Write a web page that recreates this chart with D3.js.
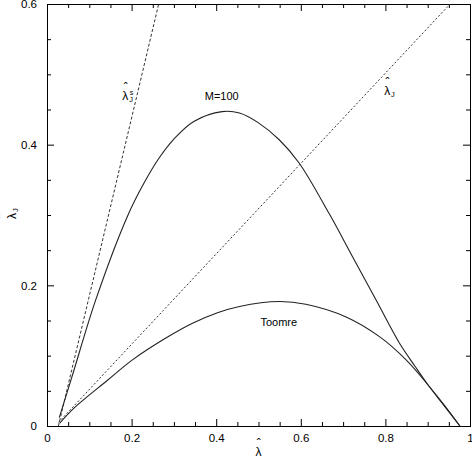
<!DOCTYPE html>
<html lang="en">
<head>
<meta charset="UTF-8">
<title>Lambda_J vs lambda</title>
<style>
    body { margin: 0; background: #fff; }
    svg { display: block; font-family: "Liberation Sans", Arial, Helvetica, sans-serif; }
    .tick text { font-size: 11.5px; fill: #000; }
    .tick line { stroke: #000; }
    .curve { fill: none; stroke: #222; stroke-width: 1.1; }
    .guide { fill: none; stroke: #333; stroke-width: 1; }
    .lab { font-size: 11px; fill: #000; }
</style>
</head>
<body>
<div id="chart"></div>
<script src="https://d3js.org/d3.v7.min.js"></script>
<script>

    // tick values and labels
    var xTicks = [0, 0.2, 0.4, 0.6, 0.8, 1];
    var xTickLabels = ["0", "0.2", "0.4", "0.6", "0.8", "1"];
    var yTicks = [0, 0.2, 0.4, 0.6];
    var yTickLabels = ["0", "0.2", "0.4", "0.6"];
    var xMinor = [0.05, 0.1, 0.15, 0.25, 0.3, 0.35, 0.45, 0.5, 0.55, 0.65, 0.7, 0.75, 0.85, 0.9, 0.95];
    var yMinor = [0.05, 0.1, 0.15, 0.25, 0.3, 0.35, 0.45, 0.5, 0.55];

    // M=100 curve
    var m100X = [0.029, 0.06, 0.115, 0.19, 0.229, 0.265, 0.30, 0.347, 0.414, 0.455, 0.50, 0.549, 0.596, 0.667, 0.722, 0.778, 0.833, 0.87, 0.90, 0.94, 0.976];
    var m100Y = [0.012, 0.072, 0.179, 0.298, 0.345, 0.381, 0.408, 0.433, 0.447, 0.445, 0.431, 0.407, 0.374, 0.302, 0.241, 0.179, 0.118, 0.085, 0.059, 0.028, 0.0];

    // Toomre curve
    var toomreX = [0.03, 0.065, 0.143, 0.202, 0.281, 0.344, 0.403, 0.455, 0.549, 0.612, 0.707, 0.786, 0.849, 0.90, 0.94, 0.976];
    var toomreY = [0.004, 0.026, 0.065, 0.094, 0.125, 0.146, 0.161, 0.170, 0.177, 0.173, 0.155, 0.127, 0.094, 0.059, 0.029, 0.0];

    // dashed straight lines
    var lamJsX = [0.027, 0.264];
    var lamJsY = [0.0, 0.6];
    var lamJX = [0.027, 0.953];
    var lamJY = [0.005, 0.6];

    var width = 472,
        height = 458;
    var margin = {top: 4, right: 2, bottom: 32, left: 47};

    var svg = d3.select("#chart").append("svg")
        .attr("width", width)
        .attr("height", height);

    var x = d3.scaleLinear()
        .domain([0, 1])
        .range([margin.left, width - margin.right]);

    var y = d3.scaleLinear()
        .domain([0, 0.6])
        .range([height - margin.bottom, margin.top]);

    function pairs(xs, ys) {
        return xs.map(function (d, i) { return [d, ys[i]]; });
    }

    function noDomain(g) { g.select(".domain").remove(); }

    // axes: ticks pointing inward on all four sides
    svg.append("g")
        .attr("transform", "translate(0," + y(0) + ")")
        .call(d3.axisBottom(x).tickValues(xTicks).tickSize(-7).tickPadding(8)
            .tickFormat(function (d, i) { return xTickLabels[i]; }))
        .call(noDomain);
    svg.append("g")
        .attr("transform", "translate(0," + y(0) + ")")
        .call(d3.axisBottom(x).tickValues(xMinor).tickSize(-4).tickFormat(""))
        .call(noDomain);

    svg.append("g")
        .attr("transform", "translate(0," + y(0.6) + ")")
        .call(d3.axisTop(x).tickValues(xTicks).tickSize(-7).tickFormat(""))
        .call(noDomain);
    svg.append("g")
        .attr("transform", "translate(0," + y(0.6) + ")")
        .call(d3.axisTop(x).tickValues(xMinor).tickSize(-4).tickFormat(""))
        .call(noDomain);

    svg.append("g")
        .attr("transform", "translate(" + x(0) + ",0)")
        .call(d3.axisLeft(y).tickValues(yTicks).tickSize(-7).tickPadding(10)
            .tickFormat(function (d, i) { return yTickLabels[i]; }))
        .call(noDomain);
    svg.append("g")
        .attr("transform", "translate(" + x(0) + ",0)")
        .call(d3.axisLeft(y).tickValues(yMinor).tickSize(-4).tickFormat(""))
        .call(noDomain);

    svg.append("g")
        .attr("transform", "translate(" + x(1) + ",0)")
        .call(d3.axisRight(y).tickValues(yTicks).tickSize(-7).tickFormat(""))
        .call(noDomain);
    svg.append("g")
        .attr("transform", "translate(" + x(1) + ",0)")
        .call(d3.axisRight(y).tickValues(yMinor).tickSize(-4).tickFormat(""))
        .call(noDomain);

    // frame
    svg.append("rect")
        .attr("x", x(0) + 0.5)
        .attr("y", y(0.6) + 0.5)
        .attr("width", x(1) - x(0))
        .attr("height", y(0) - y(0.6))
        .attr("fill", "none")
        .attr("stroke", "#000")
        .attr("stroke-width", 1);

    var line = d3.line()
        .x(function (d) { return x(d[0]); })
        .y(function (d) { return y(d[1]); });

    var smooth = d3.line()
        .curve(d3.curveCatmullRom.alpha(0.5))
        .x(function (d) { return x(d[0]); })
        .y(function (d) { return y(d[1]); });

    svg.append("path")
        .attr("class", "guide")
        .attr("stroke-dasharray", "3,2")
        .attr("d", line(pairs(lamJsX, lamJsY)));

    svg.append("path")
        .attr("class", "guide")
        .attr("stroke-dasharray", "2,2")
        .attr("d", line(pairs(lamJX, lamJY)));

    svg.append("path")
        .attr("class", "curve")
        .attr("d", smooth(pairs(m100X, m100Y)));

    svg.append("path")
        .attr("class", "curve")
        .attr("d", smooth(pairs(toomreX, toomreY)));

    // lambda with a hat, optional subscript / superscript
    function lambdaHat(g, px, py, size, sub, sup) {
        g.append("text")
            .attr("x", px)
            .attr("y", py)
            .attr("font-size", size + "px")
            .text("λ");
        g.append("text")
            .attr("x", px + size * 0.28)
            .attr("y", py - size * 0.66)
            .attr("text-anchor", "middle")
            .attr("font-size", size + "px")
            .text("ˆ");
        if (sub) {
            g.append("text")
                .attr("x", px + size * 0.58)
                .attr("y", py + size * 0.18)
                .attr("font-size", (size * 0.62) + "px")
                .text(sub);
        }
        if (sup) {
            g.append("text")
                .attr("x", px + size * 0.62)
                .attr("y", py - size * 0.45)
                .attr("font-size", (size * 0.6) + "px")
                .text(sup);
        }
    }

    var labels = svg.append("g").attr("class", "lab");

    labels.append("text")
        .attr("x", x(0.413))
        .attr("y", y(0.4635))
        .attr("text-anchor", "middle")
        .text("M=100");

    labels.append("text")
        .attr("x", x(0.548))
        .attr("y", y(0.1426))
        .attr("text-anchor", "middle")
        .text("Toomre");

    lambdaHat(labels, x(0.178), y(0.4635), 12, "J", "s");
    lambdaHat(labels, x(0.797), y(0.4706), 12, "J", null);

    // axis titles
    lambdaHat(labels, x(0.5) - 3, 456, 12, null, null);

    var yTitle = labels.append("g")
        .attr("transform", "translate(16," + (y(0.3) + 4) + ") rotate(-90)");
    lambdaHat(yTitle, 0, 0, 12, "J", null);

</script>
</body>
</html>
